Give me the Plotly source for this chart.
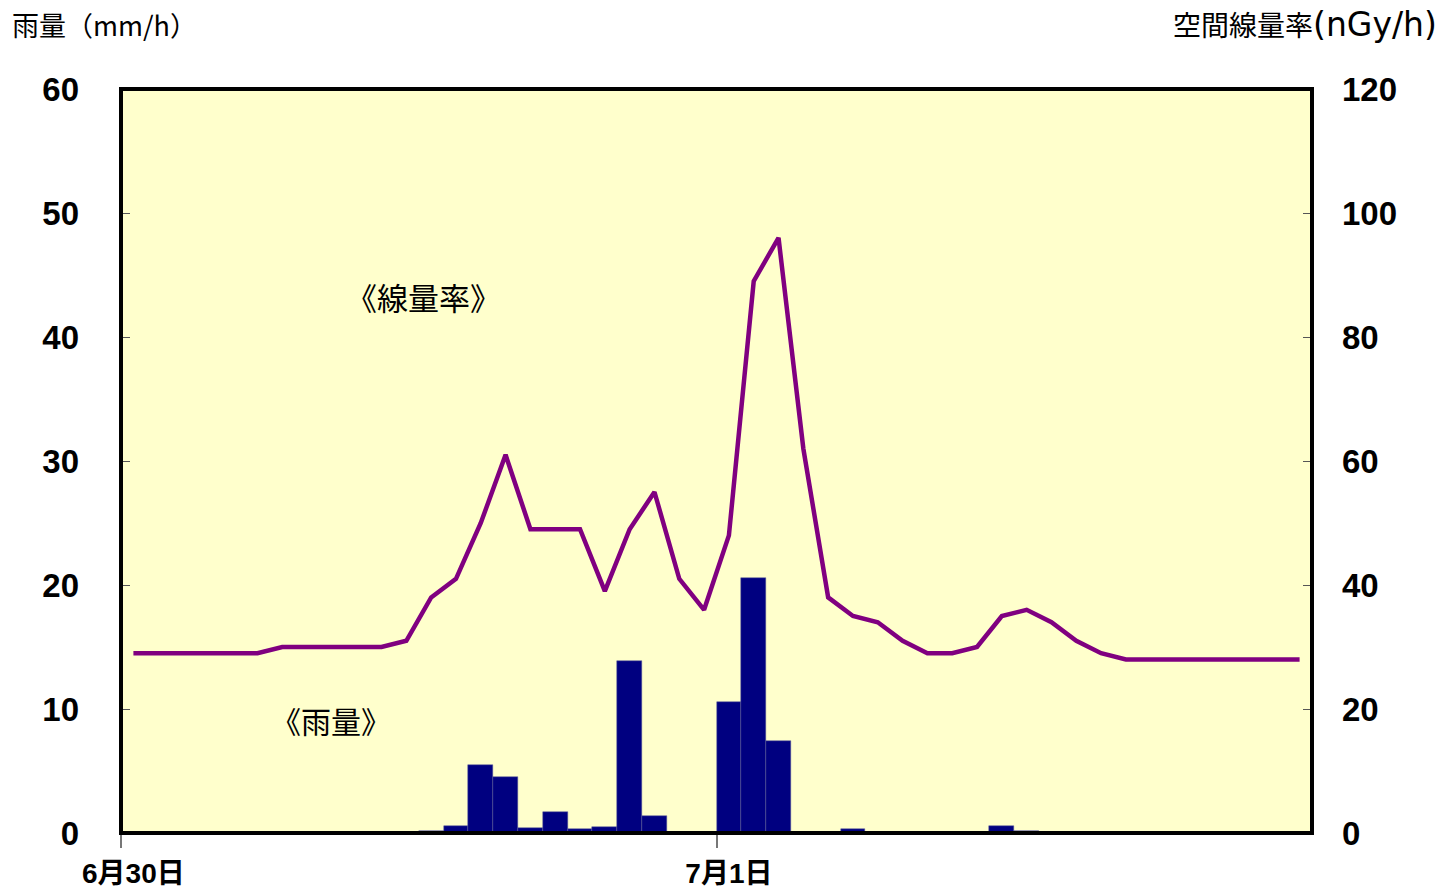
import plotly.graph_objects as go

# hourly data, 6/30 00:00 .. 7/1 23:00
hours = list(range(48))
rain_mm = [0, 0, 0, 0, 0, 0, 0, 0, 0, 0, 0, 0,
           0.2, 0.6, 5.5, 4.5, 0.4, 1.7, 0.3, 0.5, 13.9, 1.4, 0, 0.1,
           10.6, 20.6, 7.4, 0.1, 0, 0.3, 0.1, 0, 0, 0, 0, 0.6,
           0.2, 0.1, 0, 0, 0, 0, 0, 0, 0, 0, 0, 0]
dose_rate = [29, 29, 29, 29, 29, 29, 30, 30, 30, 30, 30, 31,
             38, 41, 50, 61, 49, 49, 49, 39, 49, 55, 41, 36,
             48, 89, 96, 62, 38, 35, 34, 31, 29, 29, 30, 35,
             36, 34, 31, 29, 28, 28, 28, 28, 28, 28, 28, 28]
day_ticks = [0, 24]
day_labels = ["6月30日", "7月1日"]

centers = [h + 0.5 for h in hours]

fig = go.Figure()
fig.add_trace(go.Bar(x=centers, y=rain_mm, width=1.0,
                     marker=dict(color="#000080", line=dict(width=0.5, color="#5a5a9a")),
                     yaxis="y", showlegend=False))
fig.add_trace(go.Scatter(x=centers, y=dose_rate, mode="lines",
                         line=dict(color="#800080", width=4.5),
                         yaxis="y2", showlegend=False))

tickfont = dict(family="Liberation Sans, Arial, sans-serif", size=33, color="black", weight="bold")

fig.update_layout(
    width=1443, height=889,
    autosize=False,
    margin=dict(l=121, r=131, t=89, b=56, autoexpand=False),
    paper_bgcolor="white",
    plot_bgcolor="#FFFFCC",
    bargap=0,
    xaxis=dict(range=[0, 48], showgrid=False, zeroline=False, automargin=False,
               tickmode="array", tickvals=[d + 0.5 for d in day_ticks], ticktext=day_labels,
               ticks="", ticklabelstandoff=21,
               tickfont=dict(family="Liberation Sans, Noto Sans CJK JP, sans-serif", size=28, color="black", weight="bold"),
               minor=dict(tickmode="array", tickvals=day_ticks, ticks="outside", ticklen=14,
                          tickcolor="#777777", tickwidth=2),
               showline=False),
    yaxis=dict(range=[0, 60], dtick=10, showgrid=False, zeroline=False, automargin=False,
               ticks="inside", ticklen=9, tickcolor="#555555", tickwidth=1,
               ticklabelstandoff=41,
               tickfont=tickfont, showline=False),
    yaxis2=dict(range=[0, 120], dtick=20, overlaying="y", side="right", automargin=False,
                showgrid=False, zeroline=False,
                ticks="inside", ticklen=9, tickcolor="#555555", tickwidth=1,
                ticklabelstandoff=29,
                tickfont=tickfont),
    shapes=[dict(type="rect", xref="paper", yref="paper", x0=0, x1=1, y0=0, y1=1,
                 line=dict(color="black", width=4), fillcolor="rgba(0,0,0,0)", layer="above")],
    annotations=[
        dict(text="雨量（mm/h）", xref="paper", yref="paper", x=-0.0932, y=1.087,
             xanchor="left", yanchor="middle", showarrow=False,
             font=dict(family="Noto Sans CJK JP", size=27, color="black")),
        dict(text="空間線量率<span style='font-family:DejaVu Sans;font-size:33px'>(nGy/h)</span>",
             xref="paper", yref="paper", x=1.1066, y=1.087,
             xanchor="right", yanchor="middle", showarrow=False,
             font=dict(family="Noto Sans CJK JP", size=28, color="black")),
        dict(text="《線量率》", x=12.18, y=43.3, xref="x", yref="y", showarrow=False,
             font=dict(family="Noto Sans CJK JP", size=31, color="black")),
        dict(text="《雨量》", x=8.47, y=9.1, xref="x", yref="y", showarrow=False,
             font=dict(family="Noto Sans CJK JP", size=30, color="black")),
    ],
)

fig.write_html("out.html", config={"displayModeBar": False},
               post_script="document.body.style.margin='0px';")
